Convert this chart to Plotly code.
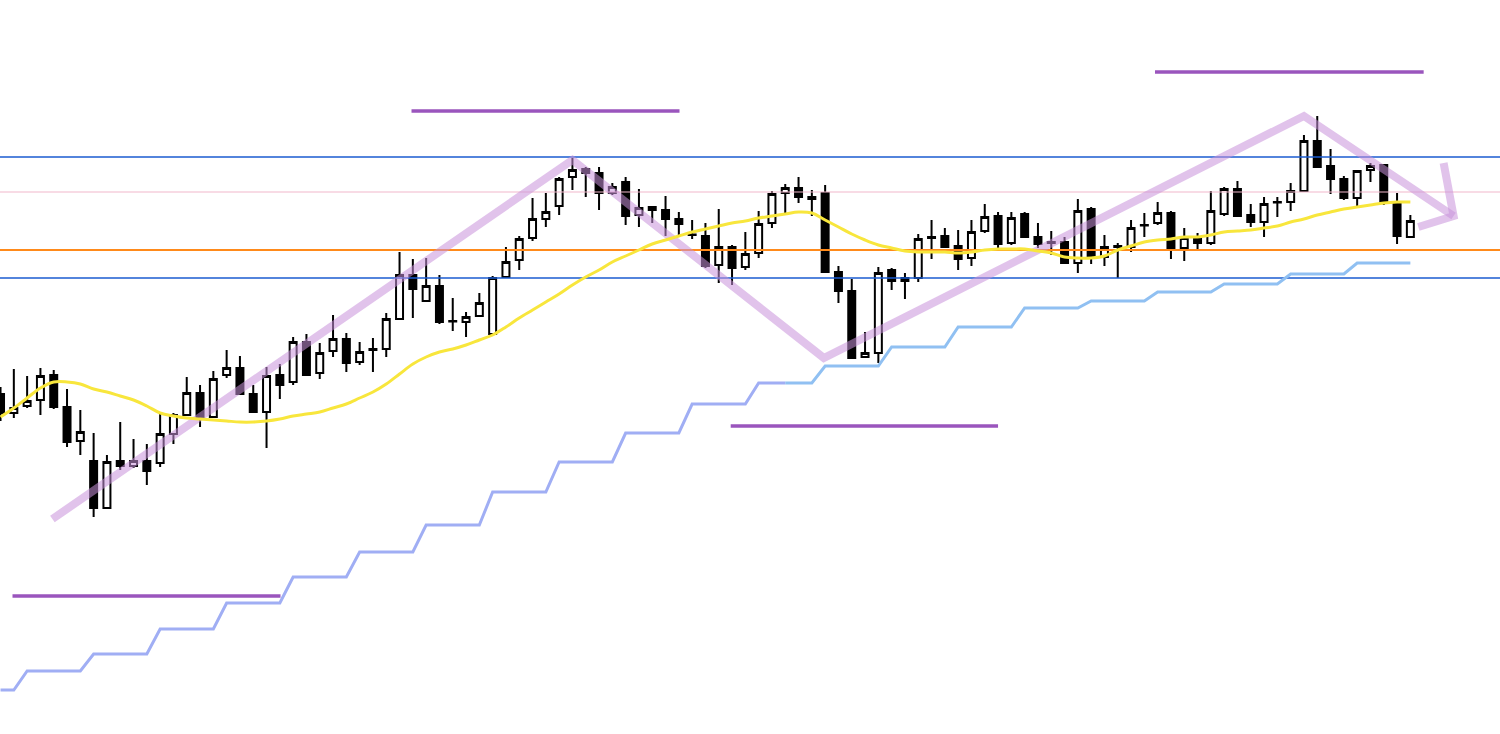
import plotly.graph_objs as go

# readings taken off the chart, in screen rows (0 = top); converted to levels below
TOP = 734

open_px = [394, 413, 406, 400, 375, 407, 441, 461, 508, 461,
           466, 461, 463, 434, 415, 393, 417, 375, 368, 394,
           412, 375, 382, 342, 373, 351, 339, 362, 350, 349,
           319, 275, 301, 286, 321, 322, 316, 334, 277, 260,
           238, 219, 206, 177, 169, 173, 193, 182, 215, 207,
           210, 219, 234.5, 236, 265, 247, 267, 253, 223, 193,
           188, 197, 193, 272, 291, 357, 353, 270, 278, 278,
           237, 236, 246, 258, 231, 216, 243, 214, 237, 242,
           242, 263, 209, 257, 246, 247, 225, 223, 213, 248,
           237, 243, 214, 189, 215, 222, 202.5, 202, 191, 141,
           166, 179, 198, 170, 165, 202, 237]
high_px = [387, 369, 376, 368, 370, 389, 410, 433, 455, 422,
           439, 444, 412, 413, 377, 385, 371, 350, 356, 385,
           367, 364, 337, 334, 343, 315, 333, 342, 338, 313,
           252, 259, 258, 275, 298, 312, 293, 276, 247, 236,
           198, 193, 177, 158, 167, 167, 183, 177, 189, 206,
           196, 212, 220, 223, 209, 245, 232, 211, 191, 184,
           177, 190, 185, 266, 279, 332, 267, 268, 273, 234,
           220, 228, 230, 220, 204, 212, 212, 212, 223, 231,
           237, 199, 207, 235, 243, 220, 213, 202, 211, 228,
           233, 191, 187, 181, 204, 197, 197, 183, 135, 116,
           149, 176, 170, 163, 164, 193, 215]
low_px = [421, 418, 408, 415, 409, 447, 455, 517, 509, 470,
          468, 485, 467, 444, 416, 427, 417, 378, 395, 413,
          448, 399, 385, 376, 379, 357, 372, 365, 372, 357,
          320, 318, 302, 324, 331, 337, 317, 335, 278, 270,
          241, 227, 215, 190, 197, 210, 195, 225, 227, 223,
          236, 235, 239, 268, 283, 285, 270, 258, 228, 213,
          203, 216, 272, 303, 358, 357, 363, 290, 299, 282,
          259, 248, 270, 266, 233, 251, 245, 238, 248, 255,
          264, 273, 264, 266, 278, 252, 237, 225, 259, 261,
          250, 245, 216, 217, 227, 237, 217, 211, 192, 168,
          194, 200, 207, 182, 205, 244, 238]
close_px = [413, 408, 401, 376, 407, 442, 432, 508, 462, 466,
            461, 471, 434, 415, 393, 418, 379, 368, 394, 412,
            376, 385, 342, 375, 353, 339, 363, 352, 349, 319,
            275, 289, 286, 322, 321.5, 317, 303, 278, 262, 239,
            219, 212, 179, 170, 173, 193, 187, 216, 208, 210,
            219, 224, 235, 266, 247, 268, 254, 224, 194, 188,
            197, 199, 272, 291, 358, 353, 273, 281, 281, 239,
            238, 247, 259, 232, 217, 244, 218, 237, 244, 243,
            263, 211, 258, 247, 247, 228, 225.5, 213, 248, 238,
            243, 211, 189, 216, 222, 204, 202, 191, 141, 167,
            179, 198, 171, 166, 202, 236, 221]

# 20-bar moving average (yellow)
ma_px = [417, 408, 398, 388, 382, 382, 384, 389, 392, 396,
         400, 406, 413, 416, 418, 419, 420, 421, 422, 422,
         421, 419, 416, 414, 412, 408, 404, 398, 392, 384,
         374, 364, 357, 352, 349, 345, 340, 335, 327, 318,
         310, 302, 294, 285, 277, 270, 262, 256, 250, 244,
         240, 236, 232, 229, 226, 223, 221, 218, 216, 214,
         212, 213, 220, 227, 234, 240, 245, 248, 251, 252,
         252, 252, 253, 252, 250, 249, 249, 249, 251, 253,
         257, 258, 258, 256, 250, 246, 242, 240, 239, 237,
         237, 235, 232, 231, 230, 228, 226, 222, 219, 215,
         212, 209, 207, 205, 203, 202, 202]

# higher-timeframe stepped line (light blue)
step_px = [690, 690, 671, 671, 671, 671, 671, 654, 654, 654,
           654, 654, 629, 629, 629, 629, 629, 603, 603, 603,
           603, 603, 577, 577, 577, 577, 577, 552, 552, 552,
           552, 552, 525, 525, 525, 525, 525, 492, 492, 492,
           492, 492, 462, 462, 462, 462, 462, 433, 433, 433,
           433, 433, 404, 404, 404, 404, 404, 383, 383, 383,
           383, 383, 366, 366, 366, 366, 366, 347, 347, 347,
           347, 347, 327, 327, 327, 327, 327, 308, 308, 308,
           308, 308, 301, 301, 301, 301, 301, 292, 292, 292,
           292, 292, 284, 284, 284, 284, 284, 274, 274, 274,
           274, 274, 263, 263, 263, 263, 263]

# horizontal levels
levels_px = [157, 192, 250, 278]
level_colors = ['#1a5bd0', '#f2b8cc', '#ff8a1a', '#1a5bd0']
level_widths = [1.6, 1.2, 2, 1.6]

# short purple marker lines: (bar start, bar end, row)
marks = [(0.9, 21.05, 596), (30.9, 51.05, 111), (54.9, 75.0, 426), (86.8, 107.0, 72)]

# hand-drawn swing path and arrow head: (bar, row)
swing = [(3.9, 519), (43.0, 160), (61.9, 358), (98.0, 116), (109.25, 216)]
arrow_head = [(108.5, 163), (109.25, 216), (106.6, 227)]


def lvl(values):
    return [TOP - v for v in values]


bars = list(range(len(open_px)))

fig = go.Figure()

for y, c, w in zip(levels_px, level_colors, level_widths):
    fig.add_trace(go.Scatter(x=[-1, 115], y=[TOP - y] * 2, mode='lines',
                             line=dict(color=c, width=w), hoverinfo='skip'))

for x0, x1, y in marks:
    fig.add_trace(go.Scatter(x=[x0, x1], y=[TOP - y] * 2, mode='lines',
                             line=dict(color='#9a55bd', width=3.5), hoverinfo='skip'))

fig.add_trace(go.Scatter(x=[p[0] for p in swing], y=lvl([p[1] for p in swing]),
                         mode='lines', line=dict(color='rgba(200,146,218,0.55)', width=8),
                         hoverinfo='skip'))
fig.add_trace(go.Scatter(x=[p[0] for p in arrow_head], y=lvl([p[1] for p in arrow_head]),
                         mode='lines', line=dict(color='rgba(200,146,218,0.55)', width=8),
                         hoverinfo='skip'))

fig.add_trace(go.Scatter(x=bars[:60], y=lvl(step_px[:60]), mode='lines',
                         line=dict(color='#a0aef4', width=3), hoverinfo='skip'))
fig.add_trace(go.Scatter(x=bars[59:], y=lvl(step_px[59:]), mode='lines',
                         line=dict(color='#90c0f2', width=3), hoverinfo='skip'))

fig.add_trace(go.Scatter(x=bars, y=lvl(ma_px), mode='lines',
                         line=dict(color='#f8e63c', width=3, shape='spline'),
                         hoverinfo='skip'))

fig.add_trace(go.Candlestick(
    x=bars,
    open=lvl(open_px), high=lvl(high_px), low=lvl(low_px), close=lvl(close_px),
    increasing=dict(line=dict(color='black', width=2), fillcolor='white'),
    decreasing=dict(line=dict(color='black', width=2), fillcolor='black'),
    whiskerwidth=0,
))

fig.update_layout(
    width=1500, height=734,
    margin=dict(l=0, r=0, t=0, b=0),
    paper_bgcolor='white', plot_bgcolor='white',
    showlegend=False,
    boxgap=0.25,
    xaxis=dict(range=[-0.04, 112.74], visible=False, rangeslider=dict(visible=False)),
    yaxis=dict(range=[0, TOP], visible=False),
)

fig.write_html("out.html", config={'displayModeBar': False},
               post_script="document.body.style.margin='0';")
